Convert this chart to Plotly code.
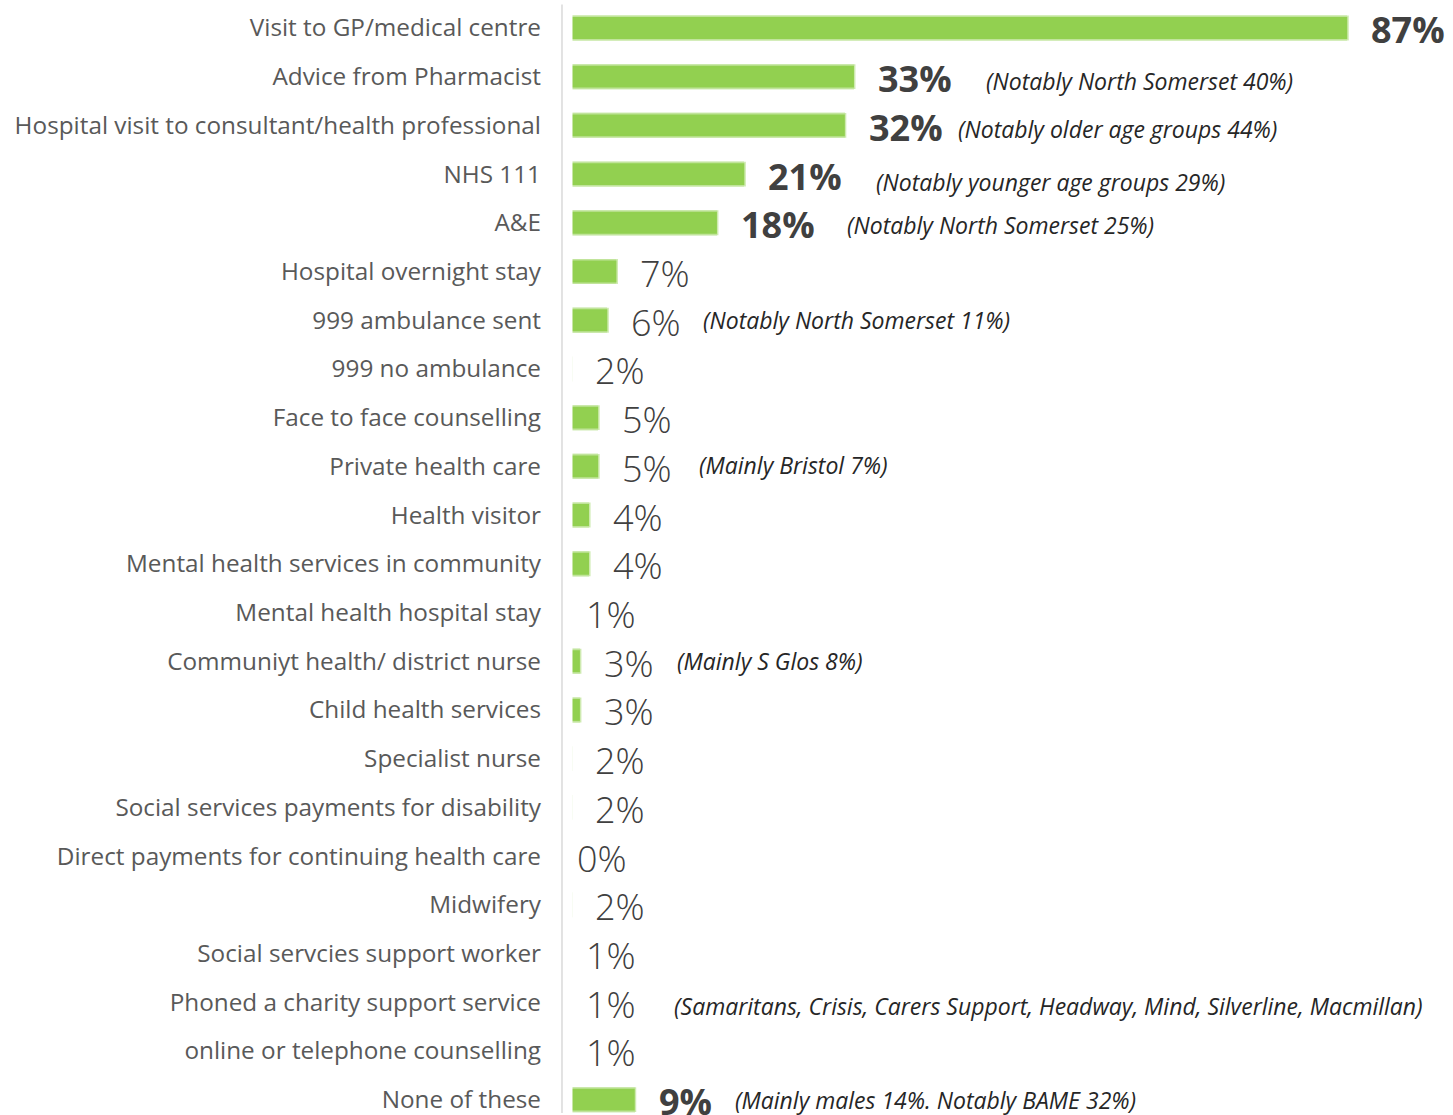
import plotly.graph_objects as go

categories = [
    "Visit to GP/medical centre",
    "Advice from Pharmacist",
    "Hospital visit to consultant/health professional",
    "NHS 111",
    "A&E",
    "Hospital overnight stay",
    "999 ambulance sent",
    "999 no ambulance",
    "Face to face counselling",
    "Private health care",
    "Health visitor",
    "Mental health services in community",
    "Mental health hospital stay",
    "Communiyt health/ district nurse",
    "Child health services",
    "Specialist nurse",
    "Social services payments for disability",
    "Direct payments for continuing health care",
    "Midwifery",
    "Social servcies support worker",
    "Phoned a charity support service",
    "online or telephone counselling",
    "None of these",
]
values = [87, 33, 32, 21, 18, 7, 6, 2, 5, 5, 4, 4, 1, 3, 3, 2, 2, 0, 2, 1, 1, 1, 9]
bold_labels = ["Visit to GP/medical centre", "Advice from Pharmacist",
               "Hospital visit to consultant/health professional", "NHS 111",
               "A&E", "None of these"]

note_categories = ["Advice from Pharmacist",
                   "Hospital visit to consultant/health professional",
                   "NHS 111", "A&E", "999 ambulance sent", "Private health care",
                   "Communiyt health/ district nurse",
                   "Phoned a charity support service", "None of these"]
note_texts = ["(Notably North Somerset 40%)",
              "(Notably older age groups 44%)",
              "(Notably younger age groups 29%)",
              "(Notably North Somerset 25%)",
              "(Notably North Somerset 11%)",
              "(Mainly Bristol 7%)",
              "(Mainly S Glos 8%)",
              "(Samaritans, Crisis, Carers Support, Headway, Mind, Silverline, Macmillan)",
              "(Mainly males 14%. Notably BAME 32%)"]

# layout helpers (pixel placement of notes)
PX_ZERO = 552.5
PX_PER_UNIT = 9.14
note_left_px = [984, 956, 874, 845, 701, 697, 675, 672, 733]
note_yshift = [-4, -4, -8, -2, 0, 1, 0, -4, 0]

W, H = 1453, 1115
ML = 552
x_max = (W - ML) / PX_PER_UNIT
x_min = (ML - PX_ZERO) / PX_PER_UNIT

GREEN = "#92D050"
FONT = "Open Sans"

fig = go.Figure()
# soft halo underneath to mimic the blurred bar edges
fig.add_trace(go.Bar(
    x=values, y=categories, orientation="h",
    width=0.53,
    marker=dict(color="rgba(146,208,80,0.22)", line=dict(width=0)),
    hoverinfo="skip",
))
fig.add_trace(go.Bar(
    x=values, y=categories, orientation="h",
    width=0.45,
    marker=dict(color=GREEN, line=dict(color="rgba(146,208,80,0.45)", width=3)),
    hoverinfo="skip",
))

annotations = []
for c, v in zip(categories, values):
    b = c in bold_labels
    annotations.append(dict(
        x=v, y=c, xref="x", yref="y", text=f"{v}%", showarrow=False,
        xanchor="left", yanchor="middle", xshift=22, yshift=-2,
        font=dict(family=FONT, size=36, color="#404040",
                  weight=700 if b else 300),
    ))
for c, t, px, ys in zip(note_categories, note_texts, note_left_px, note_yshift):
    annotations.append(dict(
        x=(px - PX_ZERO) / PX_PER_UNIT, y=c, xref="x", yref="y", text=t,
        showarrow=False, xanchor="left", yanchor="middle", yshift=ys,
        font=dict(family=FONT, size=23, color="#262626", style="italic"),
    ))

shapes = [
    # white cover hiding the bar roots near the axis
    dict(type="rect", xref="x", yref="paper", x0=x_min, x1=(572.5 - PX_ZERO) / PX_PER_UNIT,
         y0=0, y1=1, fillcolor="white", line=dict(width=0), layer="above"),
    dict(type="line", xref="x", yref="paper", x0=(562 - PX_ZERO) / PX_PER_UNIT,
         x1=(562 - PX_ZERO) / PX_PER_UNIT, y0=0, y1=0.996,
         line=dict(color="#d9d9d9", width=1.5), layer="above"),
]

row0 = 28
step = 48.8
fig.update_layout(
    width=W, height=H,
    margin=dict(l=ML, r=0, t=0, b=0),
    paper_bgcolor="white", plot_bgcolor="white",
    showlegend=False,
    barmode="overlay",
    xaxis=dict(range=[x_min, x_max], visible=False, fixedrange=True),
    yaxis=dict(
        type="category",
        categoryorder="array", categoryarray=categories,
        range=[(H - row0) / step, -row0 / step],
        showgrid=False, zeroline=False, showline=False, ticks="",
        ticklabelstandoff=10, fixedrange=True,
        tickfont=dict(family=FONT, size=24.3, color="#595959"),
    ),
    annotations=annotations,
    shapes=shapes,
    bargap=0,
)

fig.write_html("out.html", config={"displayModeBar": False, "staticPlot": True},
               post_script="document.body.style.margin='0';document.body.style.overflow='hidden';")
